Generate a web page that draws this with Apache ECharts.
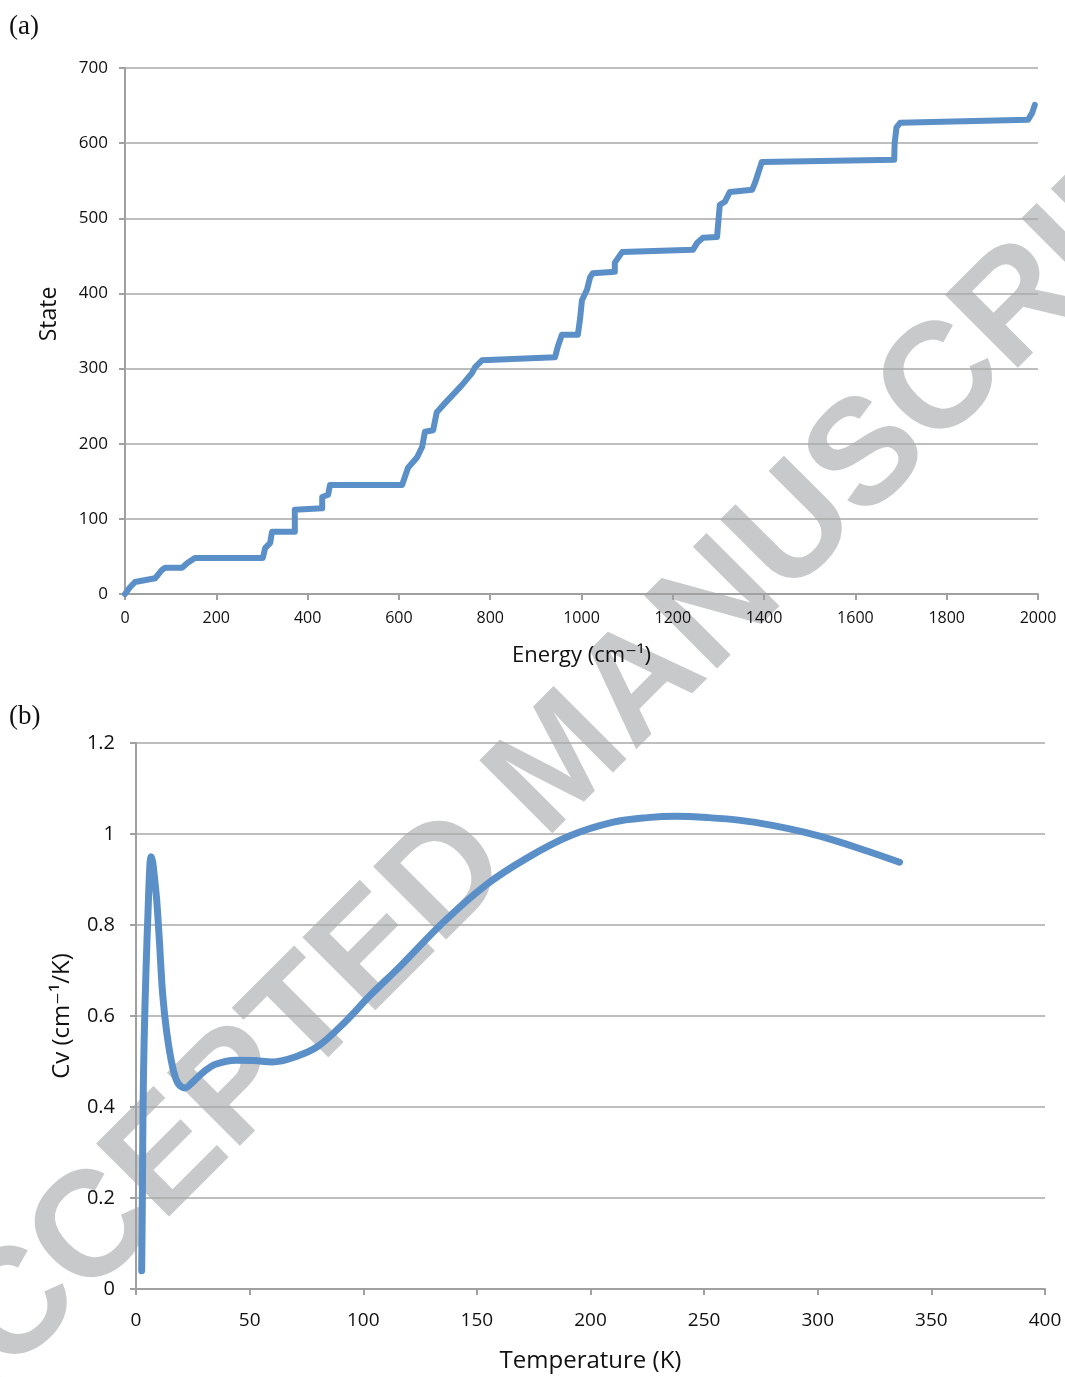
<!DOCTYPE html>
<html>
<head>
<meta charset="utf-8">
<script src="https://cdn.jsdelivr.net/npm/echarts@6/dist/echarts.min.js"></script>
<style>
html,body{margin:0;padding:0;background:#fff;}
#c{width:1065px;height:1377px;}
</style>
</head>
<body>
<div id="c"></div>
<script>
// ---- Panel (a): cumulative state count vs energy ----
var energyA = [0, 11, 22, 66, 81, 88, 125, 136, 153, 302, 307, 318, 322, 372, 372, 432, 432, 445, 449,
  607, 620, 640, 651, 657, 675, 683, 701, 718, 738, 760, 767, 782, 942, 948, 957, 992, 997, 1001, 1012,
  1019, 1025, 1073, 1073, 1089, 1244, 1253, 1266, 1297, 1299, 1303, 1314, 1325, 1374, 1380, 1387, 1395,
  1685, 1686, 1690, 1698, 1978, 1987, 1993];
var stateA = [0, 9, 16, 21, 32, 35, 35, 41, 48, 48, 61, 68, 83, 83, 112, 114, 129, 132, 145,
  145, 168, 182, 196, 216, 218, 242, 254, 265, 278, 294, 302, 311, 315, 329, 345, 345, 367, 391, 405,
  422, 427, 429, 441, 455, 458, 467, 474, 475, 490, 518, 522, 535, 538, 547, 560, 575,
  578, 600, 621, 627, 631, 640, 651];
var xTicksA = [0, 200, 400, 600, 800, 1000, 1200, 1400, 1600, 1800, 2000];
var yTicksA = [0, 100, 200, 300, 400, 500, 600, 700];

// ---- Panel (b): heat capacity vs temperature ----
var tempB = [2.5, 2.8, 3.1, 3.6, 4.4, 5.3, 6.0, 6.6, 7.3, 7.9, 9.1, 10.3, 11.7, 13.5, 16.1, 18.5, 21.6,
  25, 30, 35, 44, 52, 60, 70, 80, 92, 103, 116, 135, 154, 172, 191, 210, 225, 238, 252, 266, 280, 294, 308, 322, 336];
var cvB = [0.04, 0.2, 0.4, 0.55, 0.7, 0.83, 0.92, 0.95, 0.94, 0.915, 0.855, 0.765, 0.65, 0.565, 0.488, 0.452, 0.442,
  0.455, 0.478, 0.494, 0.503, 0.502, 0.499, 0.51, 0.533, 0.587, 0.645, 0.708, 0.805, 0.888, 0.947, 0.996, 1.026, 1.036, 1.039, 1.036, 1.03, 1.019, 1.004, 0.985, 0.962, 0.938];
var xTicksB = [0, 50, 100, 150, 200, 250, 300, 350, 400];
var yTicksB = [0, 0.2, 0.4, 0.6, 0.8, 1, 1.2];

var watermark = 'ACCEPTED MANUSCRIPT';

function pairs(xs, ys){ return xs.map(function(x,i){ return [x, ys[i]]; }); }

var LINE = '#5b8fc8';
var AX = '#a0a0a0';
var GRIDC = '#a8a8a8';
var SANS = '"Open Sans", "DejaVu Sans", sans-serif';

var chart = echarts.init(document.getElementById('c'), null, {renderer:'canvas'});
chart.setOption({
  backgroundColor: '#ffffff',
  animation: false,
  graphic: {
    elements: [
      {type:'text', left:9, top:13, z:5, style:{text:'(a)', font:'27px "Liberation Serif", "DejaVu Serif", serif', fill:'#111'}},
      {type:'text', left:9, top:703, z:5, style:{text:'(b)', font:'27px "Liberation Serif", "DejaVu Serif", serif', fill:'#111'}},
      {type:'text', x:563, y:764, rotation:Math.PI/4, z:-10, silent:true,
       style:{text:watermark, font:'bold 150px "Liberation Sans", Arial, sans-serif', fill:'#c8c9cb', align:'center', verticalAlign:'middle'}}
    ]
  },
  grid: [
    {left:125, top:68, width:913, height:526},
    {left:136, top:743, width:909, height:546}
  ],
  xAxis: [
    {gridIndex:0, type:'value', min:xTicksA[0], max:xTicksA[xTicksA.length-1], interval:200,
     name:'Energy (cm⁻¹)', nameLocation:'middle', nameGap:51,
     nameTextStyle:{fontFamily:SANS, fontSize:22, color:'#111'},
     axisLine:{show:true, onZero:false, lineStyle:{color:AX, width:2}},
     axisTick:{show:true, length:6, lineStyle:{color:AX, width:2}},
     axisLabel:{fontFamily:SANS, fontSize:16, color:'#111', margin:16, formatter:function(v){ return String(v); }},
     splitLine:{show:false}},
    {gridIndex:1, type:'value', min:xTicksB[0], max:xTicksB[xTicksB.length-1], interval:50,
     name:'Temperature (K)', nameLocation:'middle', nameGap:60,
     nameTextStyle:{fontFamily:SANS, fontSize:24, color:'#111'},
     axisLine:{show:true, onZero:false, lineStyle:{color:AX, width:2}},
     axisTick:{show:true, length:6, lineStyle:{color:AX, width:2}},
     axisLabel:{fontFamily:SANS, fontSize:19, color:'#111', margin:22, formatter:function(v){ return String(v); }},
     splitLine:{show:false}}
  ],
  yAxis: [
    {gridIndex:0, type:'value', min:yTicksA[0], max:yTicksA[yTicksA.length-1], interval:100,
     name:'State', nameLocation:'middle', nameGap:64,
     nameTextStyle:{fontFamily:SANS, fontSize:23, color:'#111', padding:[0,0,0,34]},
     axisLine:{show:true, lineStyle:{color:AX, width:2}},
     axisTick:{show:true, length:6, lineStyle:{color:AX, width:2}},
     axisLabel:{fontFamily:SANS, fontSize:17, color:'#111', margin:17},
     splitLine:{show:true, lineStyle:{color:GRIDC, width:1.6}}},
    {gridIndex:1, type:'value', min:yTicksB[0], max:yTicksB[yTicksB.length-1], interval:0.2,
     name:'Cv (cm⁻¹/K)', nameLocation:'middle', nameGap:62,
     nameTextStyle:{fontFamily:SANS, fontSize:24, color:'#111'},
     axisLine:{show:true, lineStyle:{color:AX, width:2}},
     axisTick:{show:true, length:6, lineStyle:{color:AX, width:2}},
     axisLabel:{fontFamily:SANS, fontSize:20, color:'#111', margin:21,
       formatter:function(v){ return String(Math.round(v*10)/10); }},
     splitLine:{show:true, lineStyle:{color:GRIDC, width:1.6}}}
  ],
  series: [
    {type:'line', xAxisIndex:0, yAxisIndex:0, data:pairs(energyA, stateA), showSymbol:false,
     lineStyle:{color:LINE, width:6, cap:'round', join:'round'}, z:3},
    {type:'line', xAxisIndex:1, yAxisIndex:1, data:pairs(tempB, cvB), showSymbol:false, smooth:0.35,
     lineStyle:{color:LINE, width:7, cap:'round', join:'round'}, z:3}
  ]
});
</script>
</body>
</html>
